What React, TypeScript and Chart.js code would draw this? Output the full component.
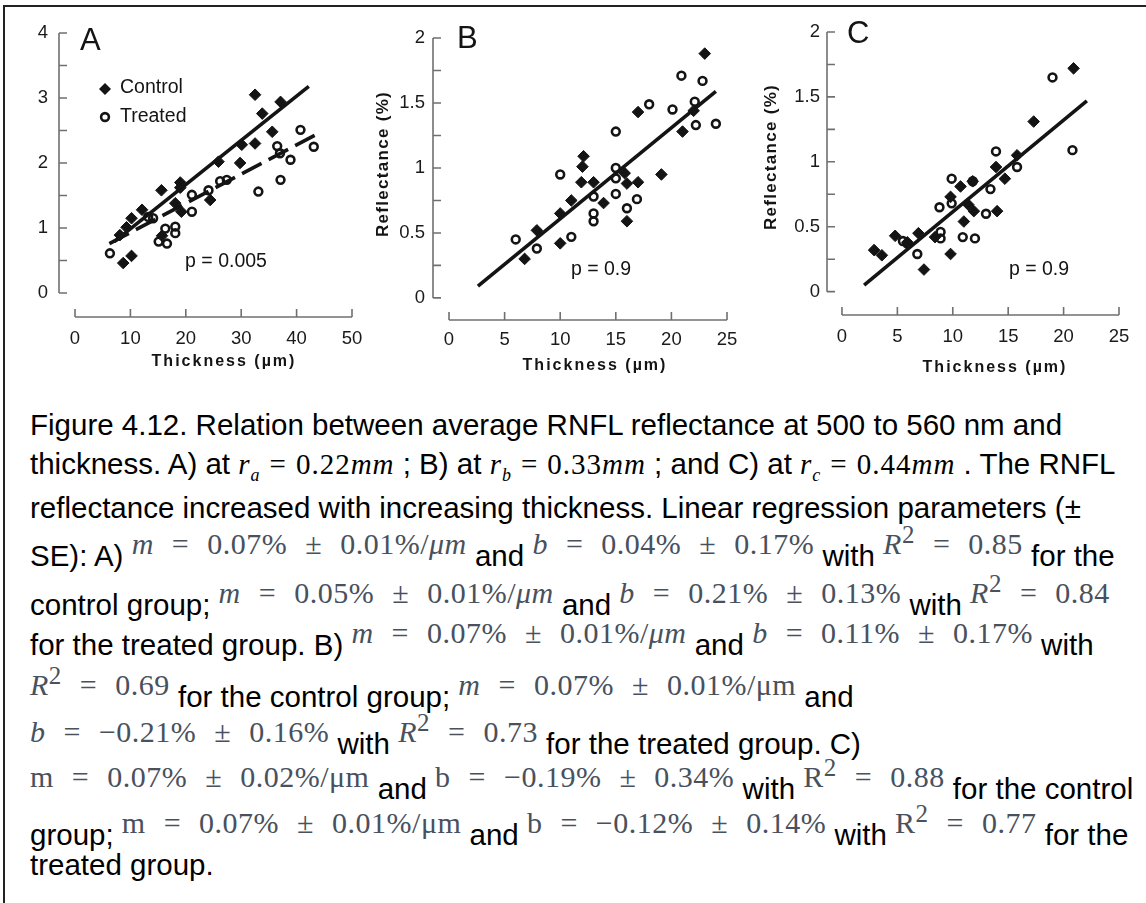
import { useEffect, useRef } from 'react';
import { Chart, registerables } from 'chart.js';

Chart.register(...registerables);

const SANS = "'Liberation Sans', Arial, Helvetica, sans-serif";
const SERIF = "'Liberation Serif', 'Times New Roman', serif";
const INK = '#141414';
const AXIS = '#707070';

// ---------- Panel A (r = 0.22 mm) ----------
const aControlX = [8.1, 9.3, 10.2, 12.1, 8.7, 10.2, 15.6, 19.0, 19.0, 18.1, 19.2, 15.7, 24.4, 25.9, 29.8, 30.1, 32.5, 32.5, 33.8, 35.6, 37.1];
const aControlY = [0.89, 1.01, 1.15, 1.28, 0.46, 0.57, 1.58, 1.70, 1.62, 1.38, 1.25, 0.88, 1.43, 2.02, 2.00, 2.28, 2.30, 3.05, 2.76, 2.48, 2.94];
const aTreatedX = [6.3, 13.2, 14.1, 15.1, 16.3, 16.6, 18.1, 18.1, 21.1, 21.1, 24.1, 26.2, 27.4, 33.1, 36.5, 37.0, 37.1, 38.9, 40.7, 43.1];
const aTreatedY = [0.61, 1.17, 1.15, 0.79, 0.99, 0.76, 0.92, 1.02, 1.51, 1.25, 1.58, 1.72, 1.74, 1.56, 2.26, 2.15, 1.74, 2.05, 2.51, 2.25];
const aControlFitX = [7.1, 42.2];
const aControlFitY = [0.79, 3.18];
const aTreatedFitX = [6.2, 43.4];
const aTreatedFitY = [0.76, 2.43];

// ---------- Panel B (r = 0.33 mm) ----------
const bControlX = [23.0, 17.0, 21.0, 12.1, 12.0, 11.9, 13.0, 11.0, 10.0, 13.9, 16.0, 17.0, 19.1, 16.0, 10.0, 7.9, 6.8, 15.8, 22.0];
const bControlY = [1.88, 1.43, 1.28, 1.09, 1.01, 0.89, 0.89, 0.75, 0.65, 0.73, 0.88, 0.89, 0.95, 0.59, 0.42, 0.52, 0.30, 0.96, 1.44];
const bTreatedX = [6.0, 7.9, 11.0, 10.0, 13.0, 13.0, 13.0, 15.0, 15.0, 15.0, 15.0, 16.0, 16.9, 18.0, 20.1, 20.9, 22.1, 22.2, 22.8, 24.0];
const bTreatedY = [0.45, 0.38, 0.47, 0.95, 0.78, 0.65, 0.59, 1.28, 1.00, 0.92, 0.80, 0.69, 0.76, 1.49, 1.45, 1.71, 1.51, 1.33, 1.67, 1.34];
const bFitX = [2.6, 24.0];
const bFitY = [0.09, 1.59];

// ---------- Panel C (r = 0.44 mm) ----------
const cControlX = [20.9, 17.3, 15.8, 13.9, 14.7, 14.0, 11.8, 10.7, 9.8, 11.4, 11.9, 11.0, 9.8, 7.4, 6.9, 4.8, 5.9, 8.4, 2.9, 3.6];
const cControlY = [1.72, 1.31, 1.05, 0.96, 0.87, 0.62, 0.85, 0.81, 0.73, 0.67, 0.62, 0.54, 0.29, 0.17, 0.45, 0.43, 0.38, 0.42, 0.32, 0.28];
const cTreatedX = [19.0, 20.8, 15.8, 13.9, 13.4, 13.0, 11.8, 9.9, 9.9, 8.8, 8.9, 8.9, 10.9, 12.0, 6.8, 5.5, 5.9];
const cTreatedY = [1.65, 1.09, 0.96, 1.08, 0.79, 0.60, 0.85, 0.87, 0.68, 0.65, 0.46, 0.41, 0.42, 0.41, 0.29, 0.39, 0.37];
const cFitX = [2.0, 22.1];
const cFitY = [0.05, 1.47];

// ---------- Axis ticks ----------
const aXTicks = [0, 10, 20, 30, 40, 50];
const aYTicks = [0, 0.5, 1, 1.5, 2, 2.5, 3, 3.5, 4];
const aYLabels = [0, 1, 2, 3, 4];
const bcXTicks = [0, 5, 10, 15, 20, 25];
const bcYTicks = [0, 0.25, 0.5, 0.75, 1, 1.25, 1.5, 1.75, 2];
const bcYLabels = [0, 0.5, 1, 1.5, 2];

const xTitle = 'Thickness (\u00b5m)';
const yTitle = 'Reflectance (%)';

function pts(xs: number[], ys: number[]) {
  return xs.map((x, i) => ({ x, y: ys[i] }));
}

type Cfg = {
  key: string;
  left: number; top: number; width: number; height: number;
  pad: { left: number; right: number; top: number; bottom: number };
  xMin: number; xMax: number; yMin: number; yMax: number;
  xTicks: number[]; yTicks: number[]; yLabels: number[];
  xPad: number; yPad: number;
  controlX: number[]; controlY: number[]; treatedX: number[]; treatedY: number[];
  fit1X: number[]; fit1Y: number[]; fit2X?: number[]; fit2Y?: number[];
  letter: string; letterPos: [number, number];
  pText: string; pPos: [number, number];
  xTitlePos: [number, number];
  yTitlePos?: [number, number];
  legend?: boolean;
};

function decor(cfg: Cfg) {
  return {
    id: 'decor' + cfg.key,
    afterDraw(chart: any) {
      const ctx: CanvasRenderingContext2D = chart.ctx;
      const xs = chart.scales.x;
      const ys = chart.scales.y;
      const area = chart.chartArea;
      ctx.save();
      // offset axes with inward ticks
      ctx.strokeStyle = AXIS;
      ctx.lineWidth = 1.6;
      ctx.beginPath();
      const yTop = ys.getPixelForValue(cfg.yTicks[cfg.yTicks.length - 1]);
      const yBot = ys.getPixelForValue(cfg.yTicks[0]);
      const ax = area.left;
      ctx.moveTo(ax, yTop);
      ctx.lineTo(ax, yBot);
      cfg.yTicks.forEach((v) => {
        const p = ys.getPixelForValue(v);
        ctx.moveTo(ax, p);
        ctx.lineTo(ax + 8, p);
      });
      const xl = xs.getPixelForValue(cfg.xTicks[0]);
      const xr = xs.getPixelForValue(cfg.xTicks[cfg.xTicks.length - 1]);
      const ay = area.bottom;
      ctx.moveTo(xl, ay);
      ctx.lineTo(xr, ay);
      cfg.xTicks.forEach((v) => {
        const p = xs.getPixelForValue(v);
        ctx.moveTo(p, ay);
        ctx.lineTo(p, ay - 8);
      });
      ctx.stroke();

      ctx.fillStyle = INK;
      // panel letter
      ctx.font = `31px ${SANS}`;
      ctx.textAlign = 'left';
      ctx.textBaseline = 'alphabetic';
      ctx.fillText(cfg.letter, cfg.letterPos[0], cfg.letterPos[1]);
      // p value
      ctx.font = `19.5px ${SANS}`;
      ctx.textAlign = 'center';
      ctx.textBaseline = 'middle';
      ctx.fillText(cfg.pText, cfg.pPos[0], cfg.pPos[1]);
      // titles
      ctx.font = `bold 16px ${SANS}`;
      (ctx as any).letterSpacing = '2px';
      ctx.fillText(xTitle, cfg.xTitlePos[0], cfg.xTitlePos[1]);
      if (cfg.yTitlePos) {
        ctx.save();
        ctx.translate(cfg.yTitlePos[0], cfg.yTitlePos[1]);
        ctx.rotate(-Math.PI / 2);
        ctx.font = `bold 17px ${SANS}`;
        (ctx as any).letterSpacing = '1.3px';
        ctx.fillText(yTitle, 0, 0);
        ctx.restore();
      }
      (ctx as any).letterSpacing = '0px';
      if (cfg.legend) {
        const dx = 105;
        ctx.beginPath();
        ctx.moveTo(dx - 6, 89);
        ctx.lineTo(dx, 83);
        ctx.lineTo(dx + 6, 89);
        ctx.lineTo(dx, 95);
        ctx.closePath();
        ctx.fill();
        ctx.beginPath();
        ctx.arc(dx, 117, 3.9, 0, Math.PI * 2);
        ctx.strokeStyle = INK;
        ctx.lineWidth = 2.6;
        ctx.stroke();
        ctx.font = `19.5px ${SANS}`;
        ctx.textAlign = 'left';
        ctx.textBaseline = 'middle';
        ctx.fillText('Control', 120, 88);
        ctx.fillText('Treated', 120, 117);
      }
      ctx.restore();
    },
  };
}

function PanelChart({ cfg }: { cfg: Cfg }) {
  const ref = useRef<HTMLCanvasElement>(null);
  useEffect(() => {
    const canvas = ref.current;
    if (!canvas) return;
    const datasets: any[] = [
      {
        label: 'Control fit',
        data: pts(cfg.fit1X, cfg.fit1Y),
        showLine: true,
        borderColor: INK,
        borderWidth: 3.6,
        pointRadius: 0,
        borderCapStyle: 'butt',
      },
    ];
    if (cfg.fit2X && cfg.fit2Y) {
      datasets.push({
        label: 'Treated fit',
        data: pts(cfg.fit2X, cfg.fit2Y),
        showLine: true,
        borderColor: INK,
        borderWidth: 3.6,
        borderDash: [22, 8],
        pointRadius: 0,
        borderCapStyle: 'butt',
      });
    }
    datasets.push(
      {
        label: 'Control',
        data: pts(cfg.controlX, cfg.controlY),
        pointStyle: 'rectRot',
        pointRadius: 5.8,
        backgroundColor: INK,
        borderColor: INK,
        borderWidth: 1,
      },
      {
        label: 'Treated',
        data: pts(cfg.treatedX, cfg.treatedY),
        pointStyle: 'circle',
        pointRadius: 3.9,
        backgroundColor: 'rgba(255,255,255,0)',
        borderColor: INK,
        borderWidth: 2.6,
      }
    );
    const tickFont = { family: SANS, size: 18.5 };
    const chart = new Chart(canvas, {
      type: 'scatter',
      data: { datasets },
      options: {
        responsive: false,
        animation: false,
        events: [],
        layout: { padding: cfg.pad },
        plugins: { legend: { display: false }, tooltip: { enabled: false } },
        scales: {
          x: {
            type: 'linear',
            min: cfg.xMin,
            max: cfg.xMax,
            grid: { display: false, drawTicks: false },
            border: { display: false },
            afterBuildTicks: (axis: any) => {
              axis.ticks = cfg.xTicks.map((v) => ({ value: v }));
            },
            afterFit: (s: any) => {
              s.height = 50;
            },
            ticks: {
              font: tickFont,
              color: '#1a1a1a',
              padding: cfg.xPad,
              maxRotation: 0,
              autoSkip: false,
              callback: (v: any) => String(v),
            },
          },
          y: {
            type: 'linear',
            min: cfg.yMin,
            max: cfg.yMax,
            grid: { display: false, drawTicks: false },
            border: { display: false },
            afterBuildTicks: (axis: any) => {
              axis.ticks = cfg.yLabels.map((v) => ({ value: v }));
            },
            afterFit: (s: any) => {
              s.width = 50;
            },
            ticks: {
              font: tickFont,
              color: '#1a1a1a',
              padding: cfg.yPad,
              autoSkip: false,
              callback: (v: any) => String(v),
            },
          },
        },
      } as any,
      plugins: [decor(cfg)],
    });
    return () => chart.destroy();
  }, [cfg]);
  return (
    <canvas
      ref={ref}
      width={cfg.width}
      height={cfg.height}
      style={{ position: 'absolute', left: cfg.left, top: cfg.top, width: cfg.width, height: cfg.height }}
    />
  );
}

const panelA: Cfg = {
  key: 'A', left: 0, top: 0, width: 400, height: 400,
  pad: { left: 9, right: 48, top: 33, bottom: 33 },
  xMin: -2.89, xMax: 50, yMin: -0.37, yMax: 4,
  xTicks: aXTicks, yTicks: aYTicks, yLabels: aYLabels, xPad: 11, yPad: 11,
  controlX: aControlX, controlY: aControlY, treatedX: aTreatedX, treatedY: aTreatedY,
  fit1X: aControlFitX, fit1Y: aControlFitY, fit2X: aTreatedFitX, fit2Y: aTreatedFitY,
  letter: 'A', letterPos: [80, 50],
  pText: 'p = 0.005', pPos: [226, 262],
  xTitlePos: [224, 362],
  legend: true,
};

const panelB: Cfg = {
  key: 'B', left: 360, top: 0, width: 400, height: 400,
  pad: { left: 23, right: 33, top: 38, bottom: 30 },
  xMin: -1.44, xMax: 25, yMin: -0.17, yMax: 2,
  xTicks: bcXTicks, yTicks: bcYTicks, yLabels: bcYLabels, xPad: 9, yPad: 8,
  controlX: bControlX, controlY: bControlY, treatedX: bTreatedX, treatedY: bTreatedY,
  fit1X: bFitX, fit1Y: bFitY,
  letter: 'B', letterPos: [97, 48],
  pText: 'p = 0.9', pPos: [241, 270],
  xTitlePos: [235, 366],
  yTitlePos: [23, 164],
};

const panelC: Cfg = {
  key: 'C', left: 760, top: 0, width: 386, height: 400,
  pad: { left: 17, right: 27, top: 32, bottom: 35 },
  xMin: -1.35, xMax: 25, yMin: -0.18, yMax: 2,
  xTicks: bcXTicks, yTicks: bcYTicks, yLabels: bcYLabels, xPad: 11, yPad: 7,
  controlX: cControlX, controlY: cControlY, treatedX: cTreatedX, treatedY: cTreatedY,
  fit1X: cFitX, fit1Y: cFitY,
  letter: 'C', letterPos: [87, 43],
  pText: 'p = 0.9', pPos: [279, 270],
  xTitlePos: [235, 368],
  yTitlePos: [11, 157],
};

const mathStyle: any = {
  fontFamily: SERIF,
  fontSize: 30,
  letterSpacing: '0.5px',
  wordSpacing: '10px',
  color: '#48515d',
  position: 'relative',
  top: -12,
};

function M({ children }: { children: any }) {
  return <span style={mathStyle}>{children}</span>;
}
function V({ children }: { children: any }) {
  return <span style={{ fontStyle: 'italic' }}>{children}</span>;
}
function R({ sub, val }: { sub: string; val: string }) {
  return (
    <span style={{ fontFamily: SERIF, fontSize: 29, letterSpacing: '1px' }}>
      <i>r</i>
      <sub style={{ fontSize: 18 }}>
        <i>{sub}</i>
      </sub>
      <span style={{ margin: '0 9px' }}>=</span>
      {val}
      <i>mm</i>
    </span>
  );
}

const lineStyle = (top: number): any => ({
  position: 'absolute',
  left: 30,
  top,
  whiteSpace: 'nowrap',
  lineHeight: 1,
  fontFamily: SANS,
  fontSize: 29.5,
  color: '#000',
});

function Caption() {
  return (
    <>
      <div style={lineStyle(410)}>Figure 4.12. Relation between average RNFL reflectance at 500 to 560 nm and</div>
      <div style={lineStyle(449)}>
        thickness. A) at <R sub="a" val="0.22" /> ; B) at <R sub="b" val="0.33" /> ; and C) at <R sub="c" val="0.44" /> . The RNFL
      </div>
      <div style={lineStyle(493)}>reflectance increased with increasing thickness. Linear regression parameters (±</div>
      <div style={lineStyle(534)}>
        SE): A) <M><V>m</V> = 0.07% ± 0.01%/<V>μm</V></M> and <M><V>b</V> = 0.04% ± 0.17%</M> with <M><V>R</V><sup>2</sup> = 0.85</M> for the
      </div>
      <div style={lineStyle(583)}>
        control group; <M><V>m</V> = 0.05% ± 0.01%/<V>μm</V></M> and <M><V>b</V> = 0.21% ± 0.13%</M> with <M><V>R</V><sup>2</sup> = 0.84</M>
      </div>
      <div style={lineStyle(630)}>
        for the treated group. B) <M><V>m</V> = 0.07% ± 0.01%/<V>μm</V></M> and <M><V>b</V> = 0.11% ± 0.17%</M> with
      </div>
      <div style={lineStyle(675)}>
        <M><V>R</V><sup>2</sup> = 0.69</M> for the control group; <M><V>m</V> = 0.07% ± 0.01%/μm</M> and
      </div>
      <div style={lineStyle(722)}>
        <M><V>b</V> = −0.21% ± 0.16%</M> with <M><V>R</V><sup>2</sup> = 0.73</M> for the treated group. C)
      </div>
      <div style={lineStyle(767)}>
        <M>m = 0.07% ± 0.02%/μm</M> and <M>b = −0.19% ± 0.34%</M> with <M>R<sup>2</sup> = 0.88</M> for the control
      </div>
      <div style={lineStyle(813)}>
        group; <M>m = 0.07% ± 0.01%/μm</M> and <M>b = −0.12% ± 0.14%</M> with <M>R<sup>2</sup> = 0.77</M> for the
      </div>
      <div style={lineStyle(850)}>treated group.</div>
    </>
  );
}

export default function App() {
  return (
    <div
      style={{
        position: 'fixed',
        left: 0,
        top: 0,
        width: 1146,
        height: 903,
        overflow: 'hidden',
        background: '#fff',
      }}
    >
      <div
        style={{
          position: 'absolute',
          left: 3,
          top: 5,
          width: 1300,
          height: 1100,
          borderTop: '2px solid #222',
          borderLeft: '2px solid #222',
        }}
      />
      <PanelChart cfg={panelA} />
      <PanelChart cfg={panelB} />
      <PanelChart cfg={panelC} />
      <Caption />
    </div>
  );
}
